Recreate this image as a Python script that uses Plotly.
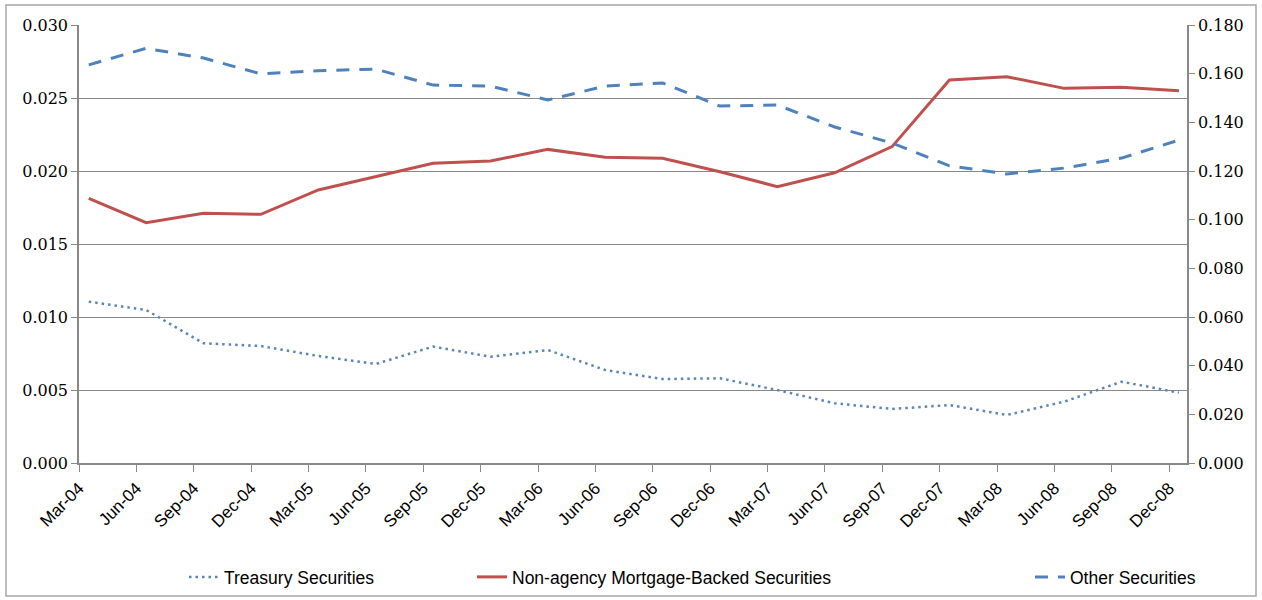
import plotly.graph_objects as go

categories = ["Mar-04", "Jun-04", "Sep-04", "Dec-04", "Mar-05", "Jun-05", "Sep-05", "Dec-05",
              "Mar-06", "Jun-06", "Sep-06", "Dec-06", "Mar-07", "Jun-07", "Sep-07", "Dec-07",
              "Mar-08", "Jun-08", "Sep-08", "Dec-08"]

treasury = [0.01105, 0.01048, 0.00820, 0.00801, 0.00733, 0.00678, 0.00797, 0.00728,
            0.00774, 0.00637, 0.00575, 0.00580, 0.00500, 0.00409, 0.00370, 0.00397,
            0.00329, 0.00420, 0.00557, 0.00482]

non_agency_mbs = [0.01813, 0.01646, 0.01710, 0.01703, 0.01870, 0.01961, 0.02053, 0.02068,
                  0.02148, 0.02094, 0.02087, 0.01995, 0.01893, 0.01988, 0.02167, 0.02623,
                  0.02646, 0.02566, 0.02573, 0.02550]

other_securities = [0.1636, 0.1704, 0.1664, 0.1599, 0.1612, 0.1619, 0.1553, 0.1549,
                    0.1492, 0.1549, 0.1562, 0.1467, 0.1471, 0.1381, 0.1315, 0.1221,
                    0.1188, 0.1212, 0.1253, 0.1327]

left_ticks = [0.000, 0.005, 0.010, 0.015, 0.020, 0.025, 0.030]
right_ticks = [0.000, 0.020, 0.040, 0.060, 0.080, 0.100, 0.120, 0.140, 0.160, 0.180]

TICK_FONT = "DejaVu Serif"
LABEL_FONT = "Liberation Sans"
BLUE = "#4F81BD"
RED = "#C0504D"
GRID = "#888888"

x = list(range(len(categories)))
tick_offset = 0.17

fig = go.Figure()
fig.add_trace(go.Scatter(x=x, y=treasury, name="Treasury Securities", mode="lines",
                         line=dict(color="#5B85B5", width=2.5, dash="2.5px,4px"),
                         yaxis="y", legend="legend", showlegend=True))
fig.add_trace(go.Scatter(x=x, y=non_agency_mbs, name="Non-agency Mortgage-Backed Securities",
                         mode="lines", line=dict(color=RED, width=3),
                         yaxis="y", legend="legend2", showlegend=True))
fig.add_trace(go.Scatter(x=x, y=other_securities, name="Other Securities", mode="lines",
                         line=dict(color=BLUE, width=3, dash="13px,10px"),
                         yaxis="y2", legend="legend3", showlegend=True))

legend_common = dict(orientation="h", xref="container", yref="container",
                     yanchor="middle", xanchor="left", bgcolor="rgba(0,0,0,0)",
                     font=dict(family=LABEL_FONT, size=17.5, color="#000000"), itemwidth=30)

fig.update_layout(
    width=1262, height=600,
    showlegend=True,
    margin=dict(l=79, r=75, t=25, b=137, autoexpand=False),
    paper_bgcolor="white", plot_bgcolor="white",
    xaxis=dict(
        range=[-tick_offset, len(categories) - 1 + 0.14],
        tickvals=[i - tick_offset for i in x], ticktext=categories,
        tickangle=-45, ticks="outside", ticklen=7, tickcolor=GRID,
        showline=True, linecolor=GRID, linewidth=1.5,
        showgrid=False, zeroline=False, automargin=False,
        tickfont=dict(family=LABEL_FONT, size=17, color="#000000"),
    ),
    yaxis=dict(
        range=[0, 0.03], tickvals=left_ticks, tickformat=".3f",
        ticks="outside", ticklen=6, tickcolor=GRID,
        showline=True, linecolor=GRID, linewidth=1.5,
        showgrid=True, gridcolor=GRID, gridwidth=1, zeroline=False, automargin=False,
        tickfont=dict(family=TICK_FONT, size=16, color="#000000"),
    ),
    yaxis2=dict(
        range=[0, 0.18], tickvals=right_ticks, tickformat=".3f",
        overlaying="y", side="right",
        ticks="outside", ticklen=6, tickcolor=GRID,
        showline=True, linecolor=GRID, linewidth=1.5,
        showgrid=False, zeroline=False, automargin=False,
        tickfont=dict(family=TICK_FONT, size=16, color="#000000"),
    ),
    legend=dict(x=184 / 1262, y=1 - 577 / 600, **legend_common),
    legend2=dict(x=472 / 1262, y=1 - 577 / 600, **legend_common),
    legend3=dict(x=1030 / 1262, y=1 - 577 / 600, **legend_common),
    shapes=[dict(type="rect", xref="paper", yref="paper",
                 x0=(6 - 79) / 1108, x1=(1256 - 79) / 1108,
                 y0=(463 - 596) / 438, y1=(463 - 5) / 438,
                 line=dict(color="#A6A6A6", width=1.5), fillcolor="rgba(0,0,0,0)",
                 layer="below")],
)

fig.write_html("out.html", config={"displayModeBar": False},
               post_script="document.body.style.margin='0';")
